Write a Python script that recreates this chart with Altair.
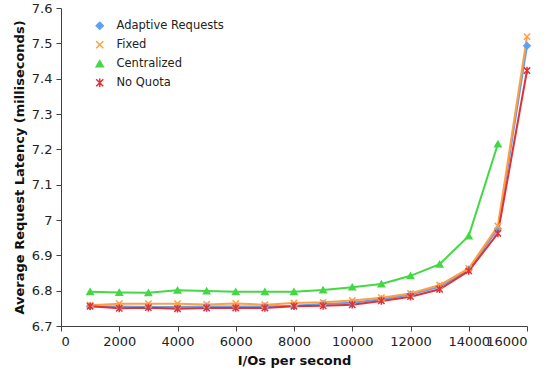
import altair as alt
import pandas as pd

# I/O rate (requests per second)
iops = [1000, 2000, 3000, 4000, 5000, 6000, 7000, 8000,
        9000, 10000, 11000, 12000, 13000, 14000, 15000, 16000]

# Average request latency (ms) per policy
adaptive = [6.756, 6.755, 6.754, 6.754, 6.755, 6.755, 6.755, 6.757,
            6.762, 6.766, 6.776, 6.789, 6.811, 6.860, 6.975, 7.493]
fixed = [6.759, 6.763, 6.763, 6.763, 6.761, 6.764, 6.760, 6.765,
         6.767, 6.772, 6.780, 6.792, 6.816, 6.863, 6.983, 7.519]
centralized = [6.797, 6.795, 6.794, 6.801, 6.799, 6.797, 6.797, 6.797,
               6.802, 6.810, 6.819, 6.842, 6.875, 6.955, 7.215]
no_quota = [6.756, 6.750, 6.752, 6.749, 6.751, 6.751, 6.751, 6.756,
            6.757, 6.760, 6.771, 6.783, 6.804, 6.856, 6.962, 7.423]

series_names = ["Adaptive Requests", "Fixed", "Centralized", "No Quota"]
series_values = [adaptive, fixed, centralized, no_quota]
series_colors = ["#5fa0f0", "#ffa040", "#44d844", "#e03038"]

x_shape = "M-1,-1L1,1M-1,1L1,-1"
star_shape = "M-1,-1L1,1M-1,1L1,-1M0,-1.2L0,1.2"
series_shapes = ["diamond", x_shape, "triangle-up", star_shape]

rows = []
for name, vals in zip(series_names, series_values):
    for x, v in zip(iops, vals):
        rows.append({"iops": x, "latency": v, "series": name})
df = pd.DataFrame(rows)

color_scale = alt.Scale(domain=series_names, range=series_colors)
shape_scale = alt.Scale(domain=series_names, range=series_shapes)

x_enc = alt.X("iops:Q", scale=alt.Scale(domain=[0, 16000], nice=False),
              axis=alt.Axis(values=list(range(0, 16001, 2000)), format="d",
                            labelOverlap=False, title="I/Os per second"))
y_enc = alt.Y("latency:Q", scale=alt.Scale(domain=[6.7, 7.6], nice=False, zero=False),
              axis=alt.Axis(values=[6.7, 6.8, 6.9, 7.0, 7.1, 7.2, 7.3, 7.4, 7.5, 7.6],
                            format=".1~f", labelOverlap=False,
                            title="Average Request Latency (milliseconds)"))

lines = alt.Chart(df).mark_line(strokeWidth=2).encode(
    x=x_enc, y=y_enc,
    stroke=alt.Stroke("series:N", scale=color_scale, title=None),
    order=alt.Order("iops:Q"),
)

points = alt.Chart(df).mark_point(filled=True, size=40, strokeWidth=1.5, opacity=1).encode(
    x=x_enc, y=y_enc,
    fill=alt.Fill("series:N", scale=color_scale, title=None),
    stroke=alt.Stroke("series:N", scale=color_scale, title=None),
    shape=alt.Shape("series:N", scale=shape_scale, title=None),
)

chart = alt.layer(lines, points).properties(
    width=466, height=318,
    autosize=alt.AutoSizeParams(type="none"),
    padding={"left": 61, "top": 8, "right": 22, "bottom": 55},
).configure_view(stroke=None).configure_axis(
    grid=False, domainColor="#404040", tickColor="#404040", tickSize=5,
    labelFont="DejaVu Sans", labelFontSize=13, labelColor="#222222",
    titleFont="DejaVu Sans", titleFontSize=13, titleFontWeight="bold", titleColor="#111111",
    labelPadding=4,
).configure_axisX(titlePadding=6).configure_axisY(titlePadding=5).configure_legend(
    orient="none", legendX=33, legendY=12, labelFontSize=11.5, labelFont="DejaVu Sans",
    symbolSize=50, rowPadding=5, symbolStrokeWidth=1.5, labelColor="#222222",
    labelOffset=11,
)

chart.save("out.html", embed_options={"renderer": "svg", "actions": False})
